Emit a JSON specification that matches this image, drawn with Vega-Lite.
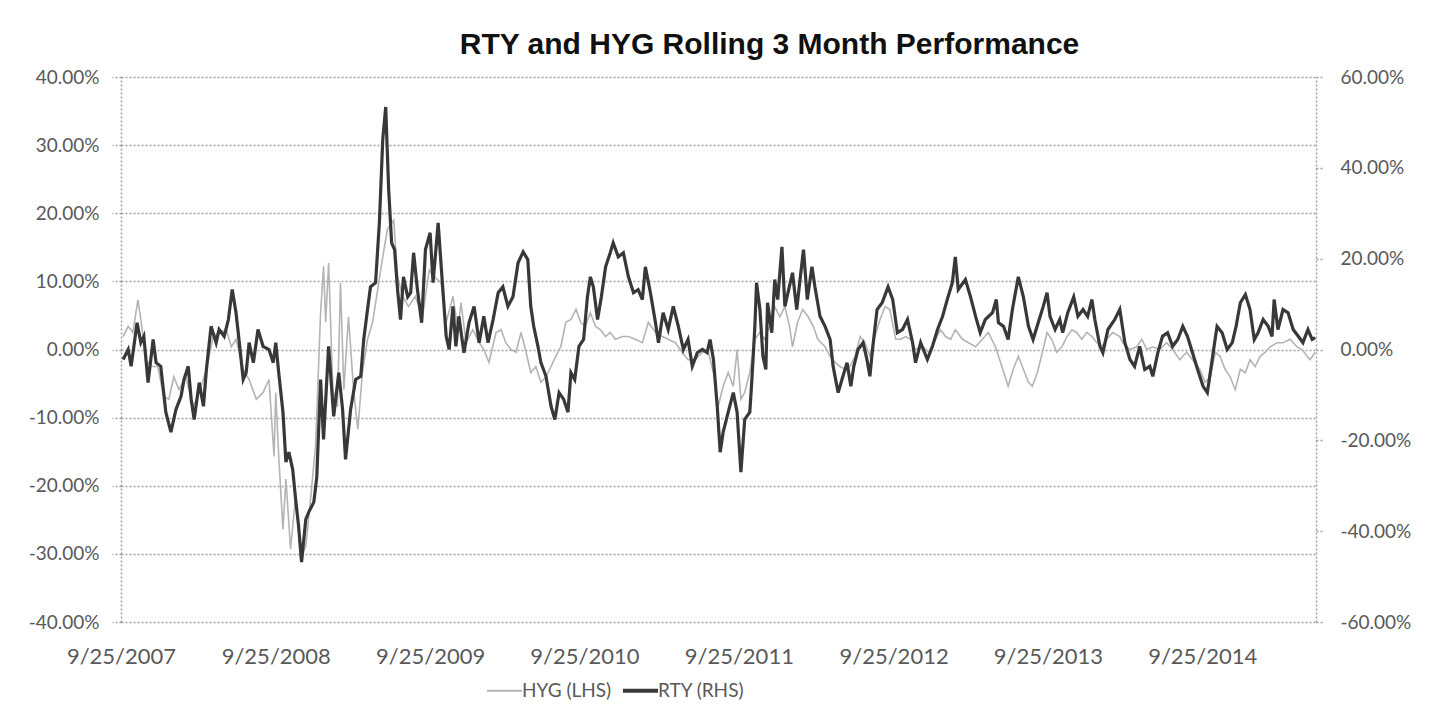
{
"$schema": "https://vega.github.io/schema/vega-lite/v6.json",
"width": 1195, "height": 545,
"autosize": {"type": "none"},
"padding": {"left": 121, "top": 77, "right": 131, "bottom": 99},
"background": "white",
"config": {"view": {"stroke": null}, "font": "Lato"},
"title": {"text": "RTY and HYG Rolling 3 Month Performance", "font": "Liberation Sans", "fontSize": 30, "fontWeight": "bold", "color": "#111111", "anchor": "middle", "dx": 51, "offset": 8},
"datasets": {
"hyg": [
{"date":"2007-09-30","value":0.019},{"date":"2007-10-12","value":0.034},{"date":"2007-10-23","value":0.025},{"date":"2007-11-04","value":0.073},{"date":"2007-11-11","value":0.044},{"date":"2007-11-23","value":-0.015},{"date":"2007-12-05","value":-0.025},{"date":"2007-12-21","value":-0.025},{"date":"2008-01-04","value":-0.069},{"date":"2008-01-16","value":-0.073},{"date":"2008-01-28","value":-0.040},{"date":"2008-02-09","value":-0.059},{"date":"2008-02-25","value":-0.040},{"date":"2008-03-14","value":-0.084},{"date":"2008-03-28","value":-0.063},{"date":"2008-04-14","value":-0.029},{"date":"2008-04-30","value":0.019},{"date":"2008-05-14","value":0.025},{"date":"2008-05-31","value":0.029},{"date":"2008-06-12","value":0.004},{"date":"2008-06-23","value":0.015},{"date":"2008-07-10","value":-0.029},{"date":"2008-07-24","value":-0.044},{"date":"2008-08-10","value":-0.073},{"date":"2008-08-26","value":-0.063},{"date":"2008-09-09","value":-0.044},{"date":"2008-09-21","value":-0.157},{"date":"2008-09-25","value":-0.063},{"date":"2008-10-02","value":-0.157},{"date":"2008-10-12","value":-0.264},{"date":"2008-10-19","value":-0.190},{"date":"2008-10-30","value":-0.293},{"date":"2008-11-11","value":-0.215},{"date":"2008-11-23","value":-0.305},{"date":"2008-12-05","value":-0.289},{"date":"2008-12-17","value":-0.215},{"date":"2008-12-28","value":-0.142},{"date":"2009-01-09","value":0.054},{"date":"2009-01-16","value":0.122},{"date":"2009-01-21","value":0.040},{"date":"2009-01-28","value":0.127},{"date":"2009-02-07","value":-0.059},{"date":"2009-02-18","value":-0.084},{"date":"2009-02-25","value":0.098},{"date":"2009-03-05","value":-0.059},{"date":"2009-03-16","value":0.048},{"date":"2009-03-28","value":-0.059},{"date":"2009-04-07","value":-0.117},{"date":"2009-04-18","value":-0.034},{"date":"2009-04-30","value":0.015},{"date":"2009-05-12","value":0.040},{"date":"2009-05-24","value":0.088},{"date":"2009-06-05","value":0.136},{"date":"2009-06-16","value":0.176},{"date":"2009-07-01","value":0.190},{"date":"2009-07-10","value":0.107},{"date":"2009-07-22","value":0.078},{"date":"2009-08-05","value":0.063},{"date":"2009-08-21","value":0.078},{"date":"2009-09-07","value":0.048},{"date":"2009-09-23","value":0.117},{"date":"2009-10-04","value":0.107},{"date":"2009-10-21","value":0.098},{"date":"2009-11-02","value":0.040},{"date":"2009-11-18","value":0.078},{"date":"2009-11-30","value":0.029},{"date":"2009-12-07","value":0.069},{"date":"2009-12-19","value":0.010},{"date":"2010-01-04","value":0.029},{"date":"2010-01-19","value":0.010},{"date":"2010-01-30","value":0.000},{"date":"2010-02-11","value":-0.019},{"date":"2010-02-28","value":0.025},{"date":"2010-03-12","value":0.029},{"date":"2010-03-23","value":0.010},{"date":"2010-04-04","value":0.000},{"date":"2010-04-16","value":-0.004},{"date":"2010-04-28","value":0.025},{"date":"2010-05-10","value":-0.004},{"date":"2010-05-21","value":-0.034},{"date":"2010-06-02","value":-0.025},{"date":"2010-06-14","value":-0.048},{"date":"2010-06-26","value":-0.040},{"date":"2010-07-08","value":-0.025},{"date":"2010-07-19","value":-0.010},{"date":"2010-07-31","value":0.004},{"date":"2010-08-12","value":0.040},{"date":"2010-08-24","value":0.044},{"date":"2010-09-05","value":0.059},{"date":"2010-09-16","value":0.040},{"date":"2010-09-27","value":0.034},{"date":"2010-10-09","value":0.054},{"date":"2010-10-21","value":0.034},{"date":"2010-11-02","value":0.029},{"date":"2010-11-14","value":0.019},{"date":"2010-11-25","value":0.025},{"date":"2010-12-07","value":0.015},{"date":"2010-12-24","value":0.019},{"date":"2011-01-07","value":0.019},{"date":"2011-01-23","value":0.015},{"date":"2011-02-09","value":0.010},{"date":"2011-02-23","value":0.040},{"date":"2011-03-12","value":0.025},{"date":"2011-03-28","value":0.019},{"date":"2011-04-11","value":0.015},{"date":"2011-04-28","value":0.010},{"date":"2011-05-14","value":-0.004},{"date":"2011-05-28","value":-0.015},{"date":"2011-06-14","value":-0.015},{"date":"2011-07-01","value":-0.004},{"date":"2011-07-15","value":-0.004},{"date":"2011-07-31","value":-0.044},{"date":"2011-08-07","value":-0.084},{"date":"2011-08-19","value":-0.054},{"date":"2011-08-31","value":-0.034},{"date":"2011-09-12","value":-0.054},{"date":"2011-09-21","value":0.000},{"date":"2011-09-30","value":-0.073},{"date":"2011-10-09","value":-0.063},{"date":"2011-10-21","value":-0.034},{"date":"2011-11-02","value":0.015},{"date":"2011-11-14","value":0.025},{"date":"2011-11-25","value":0.015},{"date":"2011-12-07","value":0.034},{"date":"2011-12-19","value":0.063},{"date":"2011-12-31","value":0.048},{"date":"2012-01-12","value":0.063},{"date":"2012-01-23","value":0.034},{"date":"2012-01-30","value":0.004},{"date":"2012-02-11","value":0.040},{"date":"2012-02-23","value":0.059},{"date":"2012-03-07","value":0.048},{"date":"2012-03-19","value":0.034},{"date":"2012-03-30","value":0.015},{"date":"2012-04-16","value":0.004},{"date":"2012-04-28","value":-0.010},{"date":"2012-05-10","value":-0.019},{"date":"2012-05-21","value":-0.025},{"date":"2012-06-02","value":-0.029},{"date":"2012-06-14","value":-0.025},{"date":"2012-06-26","value":-0.010},{"date":"2012-07-08","value":0.019},{"date":"2012-07-19","value":0.010},{"date":"2012-07-31","value":-0.010},{"date":"2012-08-12","value":0.019},{"date":"2012-08-24","value":0.044},{"date":"2012-09-05","value":0.063},{"date":"2012-09-16","value":0.059},{"date":"2012-09-30","value":0.015},{"date":"2012-10-12","value":0.015},{"date":"2012-10-23","value":0.019},{"date":"2012-11-04","value":0.015},{"date":"2012-11-16","value":0.000},{"date":"2012-12-02","value":0.004},{"date":"2012-12-17","value":-0.004},{"date":"2013-01-02","value":0.015},{"date":"2013-01-14","value":0.029},{"date":"2013-01-26","value":0.019},{"date":"2013-02-07","value":0.015},{"date":"2013-02-18","value":0.029},{"date":"2013-03-07","value":0.015},{"date":"2013-03-21","value":0.010},{"date":"2013-04-07","value":0.004},{"date":"2013-04-23","value":0.015},{"date":"2013-05-07","value":0.025},{"date":"2013-05-24","value":0.004},{"date":"2013-06-05","value":-0.019},{"date":"2013-06-16","value":-0.040},{"date":"2013-06-23","value":-0.054},{"date":"2013-07-05","value":-0.029},{"date":"2013-07-17","value":-0.010},{"date":"2013-07-29","value":-0.029},{"date":"2013-08-10","value":-0.048},{"date":"2013-08-19","value":-0.054},{"date":"2013-08-31","value":-0.034},{"date":"2013-09-12","value":-0.004},{"date":"2013-09-23","value":0.025},{"date":"2013-10-04","value":0.015},{"date":"2013-10-16","value":-0.004},{"date":"2013-10-28","value":0.004},{"date":"2013-11-09","value":0.019},{"date":"2013-11-21","value":0.029},{"date":"2013-12-02","value":0.025},{"date":"2013-12-14","value":0.015},{"date":"2013-12-26","value":0.025},{"date":"2014-01-07","value":0.019},{"date":"2014-01-19","value":0.010},{"date":"2014-01-30","value":0.004},{"date":"2014-02-11","value":0.015},{"date":"2014-02-25","value":0.025},{"date":"2014-03-14","value":0.019},{"date":"2014-03-21","value":0.010},{"date":"2014-04-07","value":0.000},{"date":"2014-04-23","value":0.004},{"date":"2014-05-05","value":0.015},{"date":"2014-05-17","value":0.000},{"date":"2014-05-31","value":0.004},{"date":"2014-06-16","value":0.000},{"date":"2014-07-03","value":0.010},{"date":"2014-07-17","value":0.000},{"date":"2014-08-03","value":-0.015},{"date":"2014-08-19","value":-0.004},{"date":"2014-09-02","value":-0.015},{"date":"2014-09-19","value":-0.029},{"date":"2014-10-02","value":-0.048},{"date":"2014-10-14","value":-0.040},{"date":"2014-10-26","value":-0.004},{"date":"2014-11-06","value":-0.010},{"date":"2014-11-18","value":-0.029},{"date":"2014-11-30","value":-0.040},{"date":"2014-12-12","value":-0.059},{"date":"2014-12-24","value":-0.029},{"date":"2015-01-05","value":-0.034},{"date":"2015-01-16","value":-0.015},{"date":"2015-01-28","value":-0.025},{"date":"2015-02-09","value":-0.010},{"date":"2015-02-21","value":-0.004},{"date":"2015-03-05","value":0.004},{"date":"2015-03-21","value":0.010},{"date":"2015-04-04","value":0.010},{"date":"2015-04-21","value":0.015},{"date":"2015-05-07","value":0.004},{"date":"2015-05-19","value":0.000},{"date":"2015-05-31","value":-0.010},{"date":"2015-06-07","value":-0.015},{"date":"2015-06-19","value":-0.004}
],
"rty": [
{"date":"2007-09-30","value":-0.022},{"date":"2007-10-12","value":0.000},{"date":"2007-10-19","value":-0.037},{"date":"2007-11-02","value":0.059},{"date":"2007-11-11","value":0.015},{"date":"2007-11-18","value":0.029},{"date":"2007-11-28","value":-0.073},{"date":"2007-12-10","value":0.022},{"date":"2007-12-17","value":-0.029},{"date":"2007-12-28","value":-0.037},{"date":"2008-01-09","value":-0.138},{"date":"2008-01-21","value":-0.182},{"date":"2008-02-02","value":-0.132},{"date":"2008-02-14","value":-0.103},{"date":"2008-02-21","value":-0.066},{"date":"2008-03-02","value":-0.037},{"date":"2008-03-09","value":-0.110},{"date":"2008-03-16","value":-0.154},{"date":"2008-03-28","value":-0.073},{"date":"2008-04-07","value":-0.125},{"date":"2008-04-14","value":-0.044},{"date":"2008-04-25","value":0.051},{"date":"2008-05-07","value":0.015},{"date":"2008-05-14","value":0.044},{"date":"2008-05-26","value":0.029},{"date":"2008-06-05","value":0.066},{"date":"2008-06-14","value":0.132},{"date":"2008-06-23","value":0.081},{"date":"2008-06-30","value":0.022},{"date":"2008-07-10","value":-0.066},{"date":"2008-07-17","value":-0.051},{"date":"2008-07-24","value":0.015},{"date":"2008-08-03","value":-0.029},{"date":"2008-08-14","value":0.044},{"date":"2008-08-26","value":0.007},{"date":"2008-09-09","value":0.000},{"date":"2008-09-19","value":-0.029},{"date":"2008-09-25","value":0.015},{"date":"2008-10-02","value":-0.051},{"date":"2008-10-12","value":-0.138},{"date":"2008-10-19","value":-0.248},{"date":"2008-10-26","value":-0.226},{"date":"2008-11-04","value":-0.264},{"date":"2008-11-11","value":-0.330},{"date":"2008-11-18","value":-0.389},{"date":"2008-11-25","value":-0.468},{"date":"2008-12-05","value":-0.374},{"date":"2008-12-12","value":-0.358},{"date":"2008-12-24","value":-0.336},{"date":"2008-12-31","value":-0.281},{"date":"2009-01-09","value":-0.066},{"date":"2009-01-16","value":-0.198},{"date":"2009-01-28","value":0.007},{"date":"2009-02-09","value":-0.147},{"date":"2009-02-21","value":-0.051},{"date":"2009-03-02","value":-0.132},{"date":"2009-03-09","value":-0.242},{"date":"2009-03-21","value":-0.132},{"date":"2009-04-02","value":-0.066},{"date":"2009-04-14","value":-0.059},{"date":"2009-04-21","value":0.022},{"date":"2009-04-30","value":0.088},{"date":"2009-05-07","value":0.138},{"date":"2009-05-19","value":0.147},{"date":"2009-05-28","value":0.279},{"date":"2009-06-05","value":0.462},{"date":"2009-06-12","value":0.534},{"date":"2009-06-19","value":0.352},{"date":"2009-06-26","value":0.235},{"date":"2009-07-03","value":0.220},{"date":"2009-07-10","value":0.132},{"date":"2009-07-17","value":0.066},{"date":"2009-07-24","value":0.160},{"date":"2009-08-03","value":0.116},{"date":"2009-08-10","value":0.125},{"date":"2009-08-17","value":0.213},{"date":"2009-08-26","value":0.132},{"date":"2009-09-05","value":0.059},{"date":"2009-09-14","value":0.220},{"date":"2009-09-25","value":0.257},{"date":"2009-10-02","value":0.147},{"date":"2009-10-14","value":0.279},{"date":"2009-10-23","value":0.160},{"date":"2009-11-02","value":0.029},{"date":"2009-11-09","value":0.000},{"date":"2009-11-18","value":0.095},{"date":"2009-11-25","value":0.007},{"date":"2009-12-02","value":0.073},{"date":"2009-12-14","value":-0.007},{"date":"2009-12-26","value":0.059},{"date":"2010-01-07","value":0.095},{"date":"2010-01-19","value":0.015},{"date":"2010-01-30","value":0.073},{"date":"2010-02-09","value":0.015},{"date":"2010-02-21","value":0.066},{"date":"2010-03-05","value":0.125},{"date":"2010-03-16","value":0.138},{"date":"2010-03-28","value":0.095},{"date":"2010-04-09","value":0.116},{"date":"2010-04-21","value":0.191},{"date":"2010-05-03","value":0.215},{"date":"2010-05-14","value":0.198},{"date":"2010-05-21","value":0.095},{"date":"2010-05-28","value":0.051},{"date":"2010-06-07","value":0.007},{"date":"2010-06-14","value":-0.029},{"date":"2010-06-26","value":-0.059},{"date":"2010-07-08","value":-0.125},{"date":"2010-07-17","value":-0.154},{"date":"2010-07-27","value":-0.095},{"date":"2010-08-07","value":-0.110},{"date":"2010-08-17","value":-0.138},{"date":"2010-08-24","value":-0.051},{"date":"2010-09-02","value":-0.066},{"date":"2010-09-12","value":0.007},{"date":"2010-09-23","value":0.022},{"date":"2010-10-02","value":0.116},{"date":"2010-10-09","value":0.160},{"date":"2010-10-16","value":0.138},{"date":"2010-10-26","value":0.066},{"date":"2010-11-04","value":0.116},{"date":"2010-11-14","value":0.182},{"date":"2010-11-25","value":0.213},{"date":"2010-12-02","value":0.235},{"date":"2010-12-14","value":0.204},{"date":"2010-12-26","value":0.213},{"date":"2011-01-07","value":0.160},{"date":"2011-01-19","value":0.125},{"date":"2011-01-30","value":0.132},{"date":"2011-02-09","value":0.110},{"date":"2011-02-16","value":0.182},{"date":"2011-02-28","value":0.125},{"date":"2011-03-12","value":0.059},{"date":"2011-03-19","value":0.015},{"date":"2011-03-30","value":0.081},{"date":"2011-04-11","value":0.044},{"date":"2011-04-23","value":0.095},{"date":"2011-05-05","value":0.051},{"date":"2011-05-17","value":0.000},{"date":"2011-05-28","value":0.022},{"date":"2011-06-07","value":-0.037},{"date":"2011-06-19","value":-0.007},{"date":"2011-07-01","value":0.000},{"date":"2011-07-12","value":-0.007},{"date":"2011-07-19","value":0.022},{"date":"2011-07-27","value":-0.022},{"date":"2011-08-05","value":-0.125},{"date":"2011-08-12","value":-0.226},{"date":"2011-08-19","value":-0.182},{"date":"2011-08-31","value":-0.138},{"date":"2011-09-12","value":-0.095},{"date":"2011-09-21","value":-0.138},{"date":"2011-09-30","value":-0.270},{"date":"2011-10-09","value":-0.154},{"date":"2011-10-21","value":-0.138},{"date":"2011-10-26","value":-0.066},{"date":"2011-11-02","value":0.051},{"date":"2011-11-06","value":0.147},{"date":"2011-11-14","value":0.088},{"date":"2011-11-21","value":-0.015},{"date":"2011-11-28","value":-0.044},{"date":"2011-12-02","value":0.103},{"date":"2011-12-12","value":0.037},{"date":"2011-12-19","value":0.154},{"date":"2011-12-26","value":0.110},{"date":"2012-01-05","value":0.226},{"date":"2012-01-12","value":0.095},{"date":"2012-01-21","value":0.132},{"date":"2012-01-30","value":0.169},{"date":"2012-02-09","value":0.088},{"date":"2012-02-16","value":0.147},{"date":"2012-02-25","value":0.220},{"date":"2012-03-05","value":0.110},{"date":"2012-03-16","value":0.182},{"date":"2012-03-23","value":0.138},{"date":"2012-04-04","value":0.073},{"date":"2012-04-16","value":0.051},{"date":"2012-04-28","value":0.022},{"date":"2012-05-05","value":-0.037},{"date":"2012-05-17","value":-0.095},{"date":"2012-05-26","value":-0.066},{"date":"2012-06-07","value":-0.029},{"date":"2012-06-16","value":-0.081},{"date":"2012-06-23","value":-0.037},{"date":"2012-07-03","value":0.000},{"date":"2012-07-15","value":0.015},{"date":"2012-07-24","value":-0.022},{"date":"2012-07-31","value":-0.059},{"date":"2012-08-07","value":0.007},{"date":"2012-08-17","value":0.088},{"date":"2012-08-29","value":0.103},{"date":"2012-09-12","value":0.138},{"date":"2012-09-23","value":0.110},{"date":"2012-10-04","value":0.037},{"date":"2012-10-16","value":0.044},{"date":"2012-10-28","value":0.066},{"date":"2012-11-09","value":0.015},{"date":"2012-11-16","value":-0.029},{"date":"2012-11-28","value":0.015},{"date":"2012-12-14","value":-0.022},{"date":"2012-12-26","value":0.007},{"date":"2013-01-07","value":0.044},{"date":"2013-01-19","value":0.073},{"date":"2013-01-30","value":0.110},{"date":"2013-02-11","value":0.147},{"date":"2013-02-18","value":0.204},{"date":"2013-02-25","value":0.132},{"date":"2013-03-14","value":0.154},{"date":"2013-03-26","value":0.116},{"date":"2013-04-07","value":0.073},{"date":"2013-04-18","value":0.037},{"date":"2013-04-30","value":0.066},{"date":"2013-05-17","value":0.081},{"date":"2013-05-26","value":0.110},{"date":"2013-05-31","value":0.059},{"date":"2013-06-12","value":0.051},{"date":"2013-06-23","value":0.022},{"date":"2013-07-03","value":0.088},{"date":"2013-07-17","value":0.160},{"date":"2013-07-29","value":0.116},{"date":"2013-08-10","value":0.051},{"date":"2013-08-21","value":0.022},{"date":"2013-09-02","value":0.059},{"date":"2013-09-14","value":0.095},{"date":"2013-09-23","value":0.125},{"date":"2013-09-30","value":0.073},{"date":"2013-10-12","value":0.044},{"date":"2013-10-23","value":0.066},{"date":"2013-10-30","value":0.037},{"date":"2013-11-11","value":0.081},{"date":"2013-11-25","value":0.116},{"date":"2013-12-05","value":0.073},{"date":"2013-12-17","value":0.088},{"date":"2013-12-28","value":0.073},{"date":"2014-01-07","value":0.110},{"date":"2014-01-14","value":0.066},{"date":"2014-01-26","value":0.007},{"date":"2014-02-02","value":-0.007},{"date":"2014-02-14","value":0.044},{"date":"2014-03-02","value":0.066},{"date":"2014-03-14","value":0.088},{"date":"2014-03-26","value":0.015},{"date":"2014-04-07","value":-0.022},{"date":"2014-04-18","value":-0.037},{"date":"2014-04-30","value":0.007},{"date":"2014-05-12","value":-0.044},{"date":"2014-05-24","value":-0.037},{"date":"2014-05-31","value":-0.059},{"date":"2014-06-12","value":-0.007},{"date":"2014-06-23","value":0.029},{"date":"2014-07-05","value":0.037},{"date":"2014-07-17","value":0.007},{"date":"2014-07-29","value":0.022},{"date":"2014-08-10","value":0.051},{"date":"2014-08-21","value":0.029},{"date":"2014-09-02","value":-0.007},{"date":"2014-09-14","value":-0.044},{"date":"2014-09-27","value":-0.081},{"date":"2014-10-07","value":-0.095},{"date":"2014-10-14","value":-0.051},{"date":"2014-10-23","value":0.007},{"date":"2014-10-30","value":0.051},{"date":"2014-11-11","value":0.037},{"date":"2014-11-23","value":0.000},{"date":"2014-12-05","value":0.015},{"date":"2014-12-14","value":0.051},{"date":"2014-12-24","value":0.103},{"date":"2015-01-05","value":0.121},{"date":"2015-01-16","value":0.088},{"date":"2015-01-26","value":0.022},{"date":"2015-02-04","value":0.037},{"date":"2015-02-16","value":0.066},{"date":"2015-02-28","value":0.051},{"date":"2015-03-09","value":0.029},{"date":"2015-03-14","value":0.110},{"date":"2015-03-23","value":0.044},{"date":"2015-04-04","value":0.088},{"date":"2015-04-16","value":0.081},{"date":"2015-04-28","value":0.044},{"date":"2015-05-10","value":0.029},{"date":"2015-05-21","value":0.015},{"date":"2015-06-02","value":0.044},{"date":"2015-06-12","value":0.022},{"date":"2015-06-19","value":0.026}
]
},
"layer": [
{
"data": {"name": "hyg"},
"mark": {"type": "line", "strokeWidth": 1.6, "interpolate": "linear"},
"encoding": {
"x": {"field": "date", "type": "temporal",
"scale": {"type": "utc", "domain": [{"year": 2007, "month": 9, "date": 25, "utc": true}, {"year": 2015, "month": 6, "date": 21, "utc": true}]},
"axis": {"orient": "bottom", "title": null, "labelExpr": "utcFormat(datum.value, '%-m/%-d/%Y')",
"values": [{"year": 2007, "month": 9, "date": 25, "utc": true}, {"year": 2008, "month": 9, "date": 25, "utc": true}, {"year": 2009, "month": 9, "date": 25, "utc": true}, {"year": 2010, "month": 9, "date": 25, "utc": true}, {"year": 2011, "month": 9, "date": 25, "utc": true}, {"year": 2012, "month": 9, "date": 25, "utc": true}, {"year": 2013, "month": 9, "date": 25, "utc": true}, {"year": 2014, "month": 9, "date": 25, "utc": true}],
"grid": false, "domain": false, "ticks": false, "labelPadding": 24, "labelFlush": false, "labelOverlap": false, "labelBound": false,
"labelFont": "Lato", "labelFontSize": 22, "labelColor": "#595959"}},
"y": {"field": "value", "type": "quantitative",
"scale": {"domain": [-0.4, 0.4], "nice": false, "zero": false},
"axis": {"orient": "left", "title": null, "values": [-0.4, -0.3, -0.2, -0.1, 0, 0.1, 0.2, 0.3, 0.4],
"labelExpr": "replace(format(datum.value, '.2%'), '\u2212', '-')",
"grid": true, "gridDash": [2, 2], "gridColor": "#a0a0a0", "gridWidth": 1.5,
"domain": true, "domainDash": [2, 2], "domainColor": "#a0a0a0", "domainWidth": 1.5,
"ticks": true, "tickSize": 9, "tickDash": [2, 2], "tickColor": "#a0a0a0", "tickWidth": 1.5,
"labelPadding": 13, "labelFont": "Lato", "labelFontSize": 19, "labelColor": "#595959"}},
"color": {"datum": "HYG (LHS)", "type": "nominal",
"scale": {"domain": ["HYG (LHS)", "RTY (RHS)"], "range": ["#b4b4b4", "#383838"]},
"legend": {"orient": "none", "legendX": 374, "legendY": 604, "direction": "horizontal", "title": null,
"symbolType": "stroke", "symbolSize": 1225, "symbolStrokeWidth": 3, "labelFont": "Lato", "labelFontSize": 19, "labelColor": "#595959",
"labelOffset": 8, "columnPadding": 3,
"encode": {"symbols": {"update": {"strokeWidth": {"signal": "datum.label === 'RTY (RHS)' ? 4 : 2"}}}}}}
}
},
{
"data": {"name": "rty"},
"mark": {"type": "line", "strokeWidth": 3.2, "interpolate": "linear"},
"encoding": {
"x": {"field": "date", "type": "temporal",
"scale": {"type": "utc", "domain": [{"year": 2007, "month": 9, "date": 25, "utc": true}, {"year": 2015, "month": 6, "date": 21, "utc": true}]}},
"y": {"field": "value", "type": "quantitative",
"scale": {"domain": [-0.6, 0.6], "nice": false, "zero": false},
"axis": {"orient": "right", "title": null, "values": [-0.6, -0.4, -0.2, 0, 0.2, 0.4, 0.6],
"labelExpr": "replace(format(datum.value, '.2%'), '\u2212', '-')",
"grid": false, "domain": true, "domainDash": [2, 2], "domainColor": "#a0a0a0", "domainWidth": 1.5,
"ticks": true, "tickSize": 6, "tickDash": [2, 2], "tickColor": "#a0a0a0", "tickWidth": 1.5,
"labelPadding": 18, "labelFont": "Lato", "labelFontSize": 19, "labelColor": "#595959"}},
"color": {"datum": "RTY (RHS)", "type": "nominal",
"scale": {"domain": ["HYG (LHS)", "RTY (RHS)"], "range": ["#b4b4b4", "#383838"]}}
}
}
],
"resolve": {"scale": {"y": "independent"}}
}
